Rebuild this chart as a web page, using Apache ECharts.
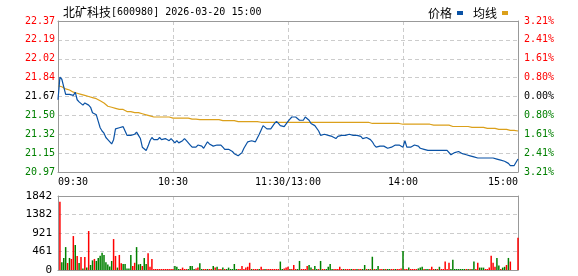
<!DOCTYPE html>
<html><head><meta charset="utf-8">
<script src="https://cdn.jsdelivr.net/npm/echarts@6/dist/echarts.min.js"></script>
<style>html,body{margin:0;padding:0;background:#fff}#c{width:578px;height:276px}</style>
</head><body><div id="c"></div>
<script>
const stockName = '北矿科技';
const stockInfo = '[600980] 2026-03-20 15:00';
const seriesNames = ['价格', '均线'];
const timeTicks = ['09:30', '10:30', '11:30/13:00', '14:00', '15:00'];
const priceTicks = ['20.97', '21.15', '21.32', '21.50', '21.67', '21.84', '22.02', '22.19', '22.37'];
const pctTicks = ['3.21%', '2.41%', '1.61%', '0.80%', '0.00%', '0.80%', '1.61%', '2.41%', '3.21%'];
const volTicks = ['0', '461', '921', '1382', '1842'];

const price = [
21.64,21.85,21.83,21.76,21.69,21.68,21.69,21.68,21.68,21.71,
21.64,21.62,21.62,21.59,21.61,21.60,21.59,21.57,21.52,21.51,
21.50,21.44,21.38,21.35,21.33,21.29,21.27,21.28,21.23,21.27,
21.37,21.37,21.38,21.37,21.39,21.35,21.31,21.32,21.31,21.30,
21.32,21.34,21.31,21.28,21.20,21.19,21.17,21.21,21.26,21.29,
21.27,21.28,21.27,21.29,21.27,21.26,21.28,21.27,21.26,21.28,
21.27,21.24,21.26,21.24,21.23,21.26,21.28,21.26,21.26,21.22,
21.20,21.19,21.20,21.22,21.21,21.21,21.19,21.22,21.25,21.23,
21.22,21.21,21.21,21.22,21.21,21.22,21.20,21.18,21.17,21.18,
21.17,21.16,21.14,21.13,21.12,21.13,21.15,21.19,21.22,21.25,
21.26,21.26,21.26,21.25,21.26,21.32,21.36,21.40,21.40,21.37,
21.37,21.37,21.38,21.42,21.44,21.42,21.40,21.39,21.39,21.40,
21.44,21.46,21.48,21.48,21.48,21.47,21.45,21.45,21.45,21.48,
21.49,21.45,21.42,21.41,21.40,21.39,21.35,21.31,21.32,21.32,
21.33,21.31,21.30,21.30,21.29,21.28,21.30,21.31,21.31,21.31,
21.31,21.32,21.32,21.33,21.31,21.31,21.31,21.31,21.30,21.28,
21.28,21.29,21.28,21.27,21.25,21.22,21.20,21.20,21.21,21.20,
21.21,21.20,21.19,21.20,21.20,21.21,21.22,21.22,21.22,21.22,
21.20,21.26,21.20,21.20,21.20,21.20,21.22,21.23,21.21,21.19,
21.18,21.18,21.19,21.17,21.17,21.17,21.17,21.17,21.17,21.17,
21.17,21.17,21.18,21.17,21.16,21.13,21.13,21.15,21.16,21.16,
21.15,21.14,21.13,21.13,21.14,21.12,21.11,21.11,21.11,21.10,
21.10,21.10,21.10,21.10,21.10,21.10,21.10,21.10,21.09,21.09,
21.08,21.08,21.07,21.07,21.06,21.05,21.03,21.03,21.03,21.04,
21.09];

const avgPrice = [
21.77,21.77,21.76,21.75,21.74,21.73,21.73,21.72,21.71,21.70,
21.70,21.70,21.69,21.69,21.68,21.68,21.67,21.66,21.66,21.65,
21.65,21.64,21.63,21.62,21.61,21.60,21.58,21.58,21.57,21.56,
21.56,21.55,21.55,21.55,21.55,21.54,21.53,21.53,21.53,21.52,
21.52,21.52,21.52,21.51,21.51,21.50,21.50,21.49,21.49,21.48,
21.48,21.48,21.48,21.48,21.48,21.48,21.48,21.48,21.48,21.48,
21.47,21.47,21.47,21.47,21.47,21.47,21.47,21.47,21.47,21.46,
21.46,21.46,21.46,21.46,21.455,21.455,21.455,21.455,21.455,21.455,
21.455,21.455,21.455,21.455,21.455,21.455,21.446,21.446,21.446,21.446,
21.446,21.446,21.446,21.446,21.437,21.437,21.437,21.437,21.437,21.437,
21.437,21.437,21.437,21.437,21.437,21.437,21.431,21.431,21.431,21.431,
21.431,21.431,21.431,21.431,21.431,21.431,21.431,21.431,21.431,21.431,
21.431,21.431,21.431,21.431,21.431,21.431,21.431,21.431,21.431,21.431,
21.431,21.431,21.431,21.431,21.431,21.431,21.431,21.431,21.431,21.431,
21.431,21.431,21.431,21.431,21.431,21.431,21.431,21.431,21.431,21.431,
21.431,21.431,21.431,21.431,21.431,21.431,21.431,21.431,21.431,21.431,
21.431,21.431,21.431,21.431,21.42,21.42,21.42,21.42,21.42,21.42,
21.42,21.42,21.42,21.42,21.42,21.42,21.42,21.42,21.42,21.413,
21.413,21.413,21.413,21.413,21.413,21.413,21.413,21.413,21.413,21.413,
21.413,21.413,21.413,21.413,21.413,21.404,21.404,21.404,21.404,21.404,
21.404,21.404,21.404,21.404,21.404,21.392,21.392,21.392,21.392,21.392,
21.392,21.392,21.392,21.392,21.392,21.392,21.383,21.383,21.383,21.383,
21.383,21.383,21.383,21.374,21.374,21.374,21.374,21.374,21.374,21.365,
21.365,21.365,21.365,21.365,21.365,21.356,21.356,21.356,21.356,21.356,
21.35];

const volume = [
0,1700,190,300,570,175,300,275,845,620,
350,175,325,40,325,60,970,125,240,275,
225,300,355,430,375,190,140,90,225,770,
350,60,375,165,150,150,40,40,375,100,
180,570,140,150,100,300,150,415,80,275,
25,25,25,25,25,25,25,25,25,25,
25,100,80,25,25,60,25,25,25,100,
100,25,40,60,165,25,25,25,25,25,
25,100,60,80,25,25,60,25,25,60,
25,25,150,25,25,25,100,25,60,80,
180,25,25,25,25,25,80,25,25,25,
25,25,25,25,25,25,210,25,40,60,
80,25,25,125,25,25,225,25,25,25,
100,125,60,25,100,25,25,225,25,25,
25,80,150,25,25,25,25,80,25,25,
25,25,25,25,25,25,25,25,25,25,
125,25,25,25,330,25,25,100,25,25,
25,25,25,25,25,25,25,25,25,40,
475,25,25,60,25,25,25,25,40,60,
80,25,25,25,25,80,25,25,25,80,
25,25,210,25,180,25,255,25,25,25,
25,25,25,25,25,25,25,210,25,180,
60,60,60,25,25,60,355,180,80,300,
110,25,60,80,125,300,210,0,0,0,
805];

// r = price up (red), g = price down (green)
const volDir =
'rrgggrgrrg' + 'rgrgrgrggr' + 'gggggggggr' + 'rgrrgggggr' + 'rgggrggrrr' +
'rrrrrrrrrr' + 'rgggrrrrgg' + 'ggrrggrrgr' + 'rgrgrrgrgg' + 'ggggrrrrrr' +
'rgrrrgrrgr' + 'rrrrrrggrr' + 'rgrrrggrrr' + 'rggrggrgrr' + 'ggggrrrrrg' +
'rrrgrrgrrg' + 'grgrgrggrr' + 'grggrrgrrr' + 'grrgrrrrgg' + 'grggrrrgrg' +
'rrrrrggggg' + 'gggrgrggrr' + 'gggrrrrrrg' + 'grggrgrrrr' + 'r';

const RED = '#ff0000', GREEN = '#008000', BLACK = '#000000';
const pMin = parseFloat(priceTicks[0]);
const pMax = parseFloat(priceTicks[priceTicks.length - 1]);
const pInt = +((pMax - pMin) / (priceTicks.length - 1)).toFixed(4);
const vMax = parseFloat(volTicks[volTicks.length - 1]);
const vInt = vMax / (volTicks.length - 1);
const nMin = price.length - 1;
const xInt = nMin / (timeTicks.length - 1);
const mid = (priceTicks.length - 1) / 2;

const monoFont = 'DejaVu Sans Mono';
const cjkFont = 'Noto Sans CJK SC';
const dash = { color: '#cccccc', width: 1, type: [4, 3] };
const border = { show: true, onZero: false, lineStyle: { color: '#999999', width: 1 } };
const pIdx = v => Math.round((v - pMin) / pInt);
const colorFor = i => i > mid ? RED : (i < mid ? GREEN : BLACK);

const chart = echarts.init(document.getElementById('c'), null, { renderer: 'canvas' });
chart.setOption({
  animation: false,
  backgroundColor: '#ffffff',
  title: {
    left: 58, top: 1,
    text: '{c|' + stockName + '}{m|' + stockInfo + '}',
    textStyle: {
      fontWeight: 'normal',
      rich: {
        c: { fontFamily: cjkFont, fontSize: 12, fontWeight: 'normal', color: '#000' },
        m: { fontFamily: monoFont, fontSize: 10, fontWeight: 'normal', color: '#000' }
      }
    }
  },
  legend: {
    right: 65, top: 2, align: 'right', icon: 'rect',
    itemWidth: 6, itemHeight: 4, itemGap: 10,
    textStyle: { fontFamily: cjkFont, fontSize: 12, color: '#000' },
    data: seriesNames
  },
  grid: [
    { left: 58, top: 21, width: 460, height: 151 },
    { left: 58, top: 196, width: 460, height: 74 }
  ],
  xAxis: [
    { gridIndex: 0, type: 'value', min: 0, max: nMin, interval: xInt, position: 'bottom',
      axisLine: border, axisTick: { show: false },
      axisLabel: { show: true, margin: 5, fontFamily: monoFont, fontSize: 10, color: '#000',
        alignMinLabel: 'left', alignMaxLabel: 'right',
        formatter: v => timeTicks[Math.round(v / xInt)] },
      splitLine: { show: true, showMinLine: false, showMaxLine: false, lineStyle: dash } },
    { gridIndex: 0, type: 'value', min: 0, max: nMin, interval: xInt, position: 'top',
      axisLine: border, axisTick: { show: false }, axisLabel: { show: false }, splitLine: { show: false } },
    { gridIndex: 1, type: 'value', min: 0, max: nMin, interval: xInt, position: 'bottom',
      axisLine: border, axisTick: { show: false }, axisLabel: { show: false },
      splitLine: { show: true, showMinLine: false, showMaxLine: false, lineStyle: dash } },
    { gridIndex: 1, type: 'value', min: 0, max: nMin, interval: xInt, position: 'top',
      axisLine: border, axisTick: { show: false }, axisLabel: { show: false }, splitLine: { show: false } }
  ],
  yAxis: [
    { gridIndex: 0, type: 'value', min: pMin, max: pMax, interval: pInt, position: 'left',
      axisLine: border, axisTick: { show: false },
      axisLabel: { margin: 3, fontFamily: monoFont, fontSize: 10,
        formatter: v => priceTicks[pIdx(v)], color: v => colorFor(pIdx(v)) },
      splitLine: { show: true, showMinLine: false, showMaxLine: false, lineStyle: dash } },
    { gridIndex: 0, type: 'value', min: pMin, max: pMax, interval: pInt, position: 'right',
      axisLine: border, axisTick: { show: false },
      axisLabel: { margin: 6, fontFamily: monoFont, fontSize: 10,
        formatter: v => pctTicks[pIdx(v)], color: v => colorFor(pIdx(v)) },
      splitLine: { show: false } },
    { gridIndex: 1, type: 'value', min: 0, max: vMax, interval: vInt, position: 'left',
      axisLine: border, axisTick: { show: false },
      axisLabel: { margin: 6, fontFamily: monoFont, fontSize: 11, color: '#000',
        formatter: v => volTicks[Math.round(v / vInt)] },
      splitLine: { show: true, showMinLine: false, showMaxLine: false, lineStyle: dash } },
    { gridIndex: 1, type: 'value', min: 0, max: vMax, interval: vInt, position: 'right',
      axisLine: border, axisTick: { show: false }, axisLabel: { show: false }, splitLine: { show: false } }
  ],
  series: [
    { name: seriesNames[0], type: 'line', xAxisIndex: 0, yAxisIndex: 0,
      data: price.map((p, i) => [i, p]), symbol: 'none', color: '#0a52a5',
      lineStyle: { width: 1.2, color: '#0a52a5' }, z: 3 },
    { name: seriesNames[1], type: 'line', xAxisIndex: 0, yAxisIndex: 0,
      data: avgPrice.map((p, i) => [i, p]), symbol: 'none', color: '#dba01b',
      lineStyle: { width: 1.2, color: '#dba01b' }, z: 2 },
    { name: 'volume', type: 'bar', xAxisIndex: 2, yAxisIndex: 2,
      data: volume.map((v, i) => [i, v]), barWidth: 1.5,
      itemStyle: { color: p => volDir[p.dataIndex] === 'r' ? RED : GREEN } }
  ]
});
</script>
</body></html>
